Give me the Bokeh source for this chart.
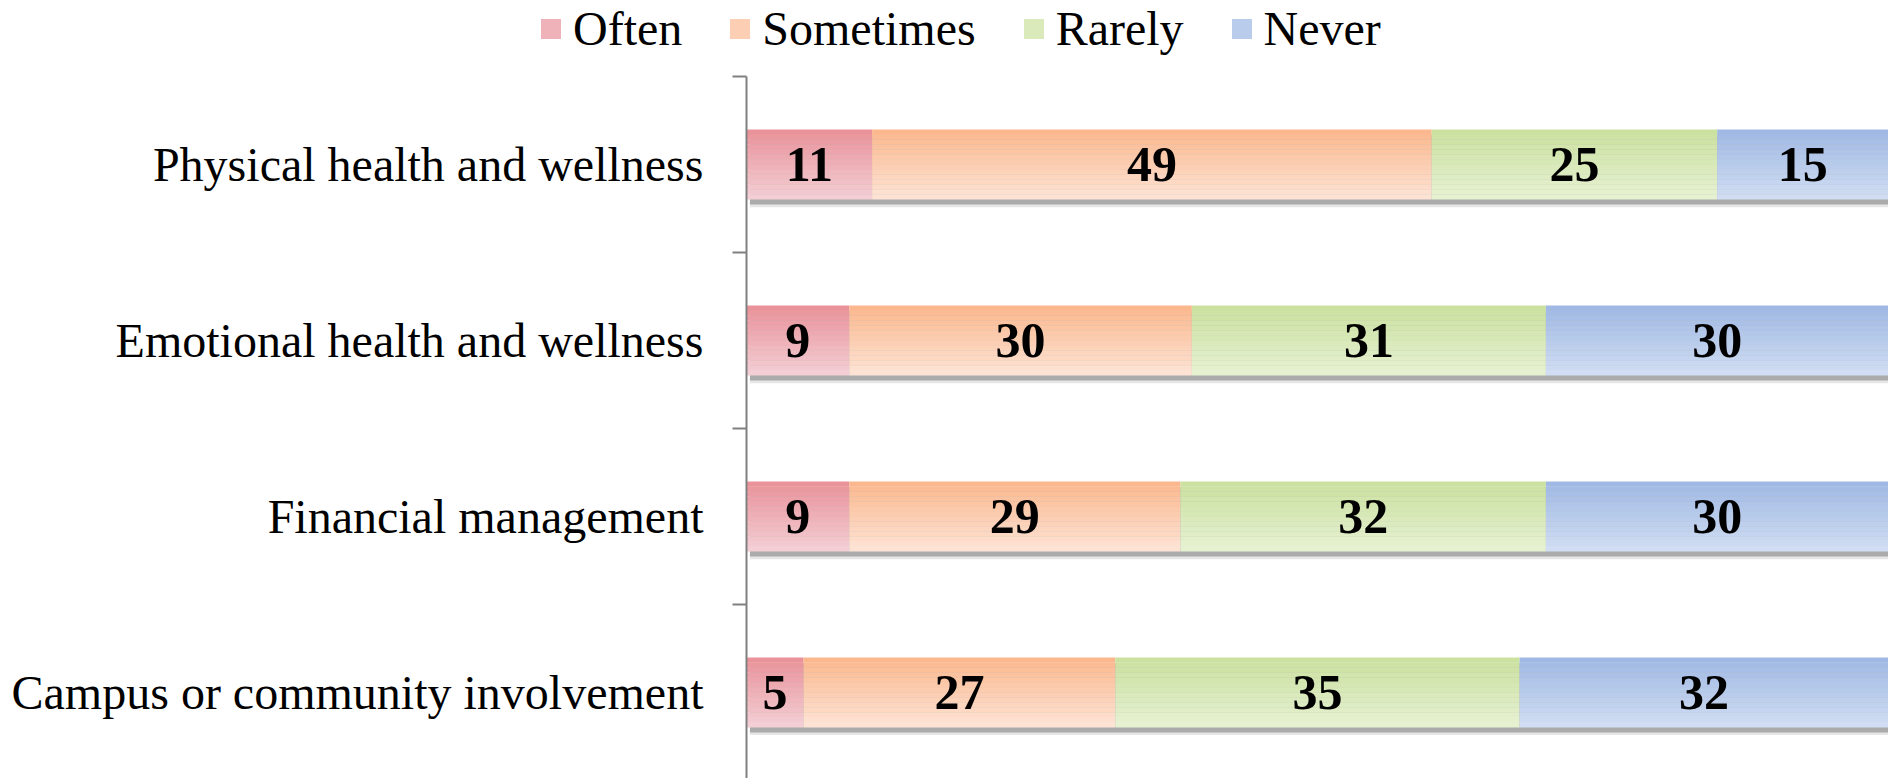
import numpy as np
from bokeh.plotting import figure
from bokeh.models import ColumnDataSource, FixedTicker, Legend, LegendItem, Range1d
from bokeh.core.properties import value
from bokeh.embed import file_html
from bokeh.resources import INLINE

# ---- data ----
categories = [
    "Physical health and wellness",
    "Emotional health and wellness",
    "Financial management",
    "Campus or community involvement",
]
series_names = ["Often", "Sometimes", "Rarely", "Never"]
often = [11, 9, 9, 5.0]
sometimes = [49, 30, 29, 27.3]
rarely = [25, 31, 32, 35.4]
never = [15, 30, 30, 32.3]

# gradient colours (top -> bottom of each bar segment)
top_colors = [(234, 146, 154), (251, 184, 143), (203, 225, 160), (160, 185, 228)]
bottom_colors = [(243, 206, 212), (253, 227, 212), (230, 241, 210), (208, 221, 242)]

FONT = "Liberation Serif"
BAR_H = 0.395
N_STRIPS = 14

series = [often, sometimes, rarely, never]
ys = np.array([3, 2, 1, 0], dtype=float)


def hexcol(c):
    return "#%02x%02x%02x" % tuple(int(round(v)) for v in c)


# The frame covers the whole canvas; the category axis is pinned at x = 0.
p = figure(width=1888, height=778, output_backend="svg", toolbar_location=None,
           x_range=Range1d(-65.32, 100), y_range=Range1d(-0.489, 3.932),
           min_border_left=0, min_border_top=0, min_border_right=0,
           min_border_bottom=0)
p.xaxis.visible = False
p.xgrid.visible = False
p.ygrid.visible = False
p.outline_line_color = None
p.background_fill_color = "white"
p.border_fill_color = "white"

ax = p.yaxis[0]
ax.fixed_location = 0
ax.bounds = (-0.6, 3.5)
ax.ticker = FixedTicker(ticks=list(ys), minor_ticks=[-0.5, 0.5, 1.5, 2.5, 3.5])
ax.major_label_overrides = {int(y): c for y, c in zip(ys, categories)}
ax.major_tick_out = 0
ax.major_tick_in = 0
ax.minor_tick_out = 14
ax.minor_tick_in = 0
ax.minor_tick_line_color = "#808080"
ax.minor_tick_line_width = 2
ax.axis_line_color = "#808080"
ax.axis_line_width = 2
ax.major_label_standoff = 29
ax.major_label_text_font = FONT
ax.major_label_text_font_size = "48px"
ax.major_label_text_color = "black"

totals = np.sum(np.array(series), axis=0)

# shadow beneath the bars
p.hbar(y=ys - 0.045, left=0.3, right=totals + 0.2, height=BAR_H,
       fill_color="#9a9a9a", fill_alpha=0.25, line_color=None)
p.hbar(y=ys - 0.03, left=0.3, right=totals + 0.1, height=BAR_H,
       fill_color="#7a7a7a", fill_alpha=0.55, line_color=None)

cum = np.zeros(len(categories))
legend_items = []
label_x, label_y, label_t = [], [], []
for s, vals in enumerate(series):
    vals = np.array(vals, dtype=float)
    left = cum.copy()
    right = cum + vals
    tc = np.array(top_colors[s], dtype=float)
    bc = np.array(bottom_colors[s], dtype=float)
    mid_r = None
    for j in range(N_STRIPS):
        f = j / (N_STRIPS - 1)
        col = hexcol(tc + (bc - tc) * f)
        yc = ys + BAR_H / 2 - (j + 0.5) * BAR_H / N_STRIPS
        r = p.hbar(y=yc, left=left, right=right, height=BAR_H / N_STRIPS + 0.002,
                   fill_color=col, line_color=None)
        if j == N_STRIPS // 2:
            mid_r = r
    legend_items.append(LegendItem(label=series_names[s], renderers=[mid_r]))
    label_x.extend(list((left + right) / 2))
    label_y.extend(list(ys))
    label_t.extend([str(int(round(v))) for v in vals])
    cum = right

src = ColumnDataSource(dict(x=label_x, y=label_y, t=label_t))
p.text(x="x", y="y", text="t", source=src, text_font=value(FONT),
       text_font_style="bold", text_font_size="50px", text_align="center",
       text_baseline="middle", text_color="black")

legend = Legend(items=legend_items, orientation="horizontal", location=(538, 722),
                glyph_width=25, glyph_height=25, label_standoff=10, spacing=45,
                padding=0, margin=0, border_line_color=None,
                background_fill_alpha=0, label_text_font=FONT,
                label_text_font_size="48px", label_text_color="black")
p.add_layout(legend, "center")

open("out.html", "w").write(file_html(p, INLINE))
